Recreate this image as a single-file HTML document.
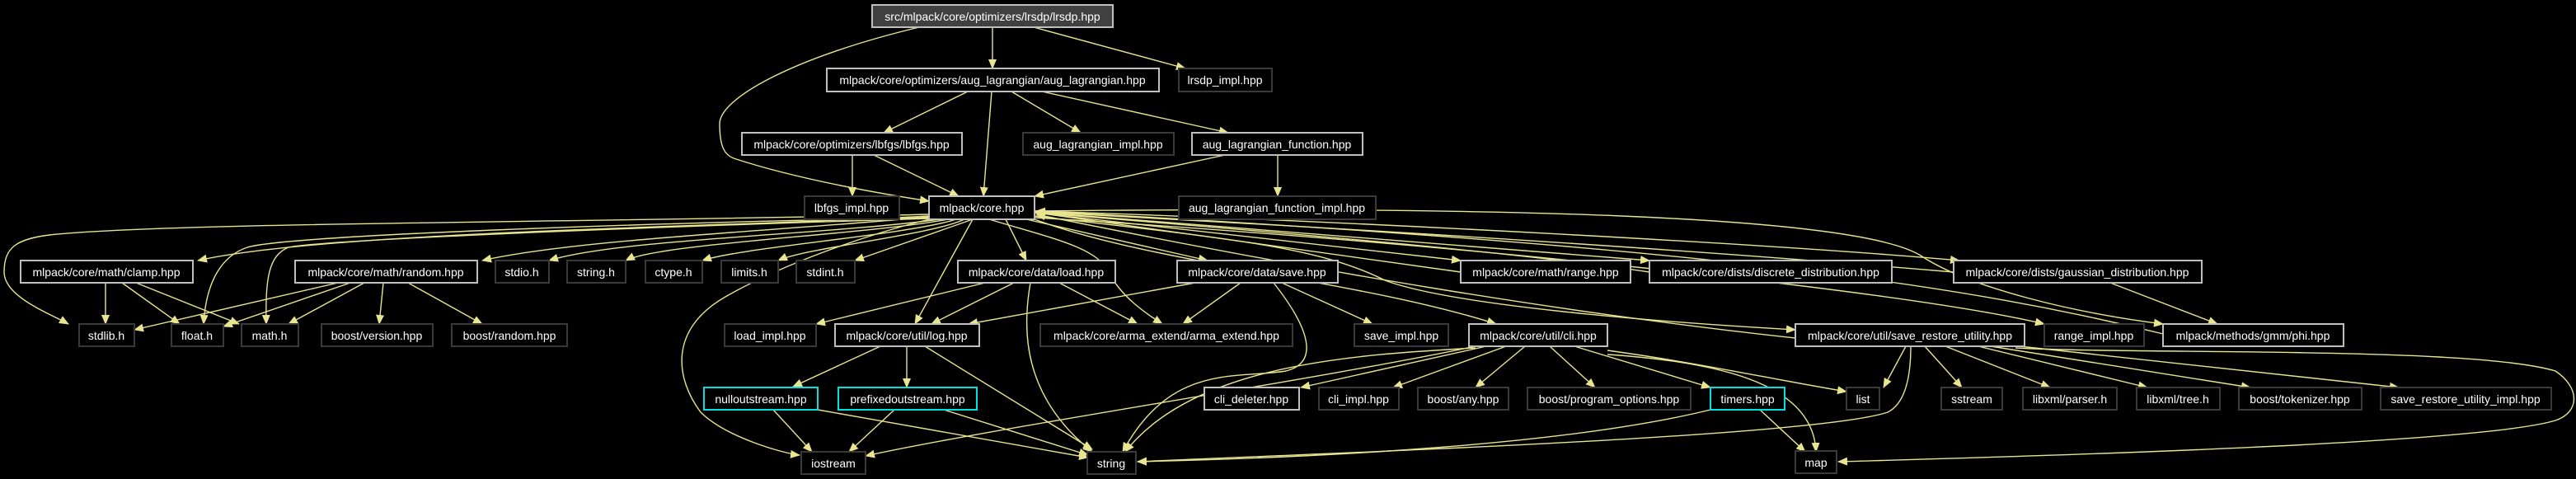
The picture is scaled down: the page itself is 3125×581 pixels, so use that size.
<!DOCTYPE html>
<html><head><meta charset="utf-8"><style>
html,body{margin:0;padding:0;background:#000;}
svg{display:block}
text{font-family:"Liberation Sans",sans-serif;font-size:14px;fill:#fff;text-anchor:middle}
.e{fill:none;stroke:#e8e490;stroke-width:1.4}
.d{fill:#000;stroke:#bfbfbf;stroke-width:2}
.u{fill:#000;stroke:#3a3a3a;stroke-width:2}
.c{fill:#000;stroke:#00e0e0;stroke-width:2}
.r{fill:#404040;stroke:#bfbfbf;stroke-width:2}
</style></head><body>
<svg width="3125" height="581" viewBox="0 0 3125 581" xmlns="http://www.w3.org/2000/svg">
<defs><marker id="a" viewBox="0 0 12 10" refX="11" refY="5" markerWidth="12" markerHeight="10" markerUnits="userSpaceOnUse" orient="auto"><path d="M0,0L12,5L0,10z" fill="#e8e490"/></marker></defs>
<g class="e" marker-end="url(#a)">
<path d="M1204,33L1204,83"/>
<path d="M1254,33L1438,83"/>
<path d="M1115,33C960,70 873,120 873,150C873,180 880,188 890,192C960,215 1050,232 1127,244"/>
<path d="M1174,111L1072,161"/>
<path d="M1203,111L1193,238"/>
<path d="M1227,111L1311,161"/>
<path d="M1264,111L1490,161"/>
<path d="M1034,188L1034,238"/>
<path d="M1060,188L1163,238"/>
<path d="M1550,188L1550,238"/>
<path d="M1486,188L1255,238"/>
<path d="M1127,262C900,275 400,280 240,316"/>
<path d="M1127,263C950,280 700,290 585,316"/>
<path d="M1140,266C1000,285 750,290 666,316"/>
<path d="M1150,266C1050,285 800,295 759,316"/>
<path d="M1160,266C1100,285 900,300 852,316"/>
<path d="M1170,266C1130,285 980,300 944,316"/>
<path d="M1180,266L1037,316"/>
<path d="M1127,260C700,270 200,270 60,285C20,290 5,300 5,330C5,360 60,380 83,393"/>
<path d="M1127,264C800,270 350,285 300,300C270,310 250,340 247,393"/>
<path d="M1127,265C800,275 400,290 350,300C325,310 322,340 323,393"/>
<path d="M1220,266L1245,316"/>
<path d="M1245,266L1465,316"/>
<path d="M1180,266L1110,393"/>
<path d="M1200,266C1280,290 1330,300 1345,330C1360,360 1390,380 1410,393"/>
<path d="M1127,266C1050,285 950,320 880,360C810,400 820,460 850,500C880,530 950,550 970,552"/>
<path d="M1255,266C1400,320 1650,340 1815,393"/>
<path d="M1255,258L1772,316"/>
<path d="M1255,257L2001,316"/>
<path d="M1255,256C1700,270 2200,300 2377,316"/>
<path d="M1255,262C1500,290 1600,300 1680,340C1760,370 2000,390 2178,400"/>
<path d="M1255,264C1700,290 2300,350 2480,393"/>
<path d="M1255,256C1800,250 2250,260 2330,310C2390,350 2520,380 2624,393"/>
<path d="M1772,330L1257,258"/>
<path d="M2001,330C1800,300 1400,270 1257,258"/>
<path d="M2370,330C1900,290 1400,265 1257,257"/>
<path d="M2178,410C1900,380 1600,330 1257,260"/>
<path d="M2624,405C2400,350 2100,300 1257,256"/>
<path d="M128,343L128,393"/>
<path d="M148,343L218,393"/>
<path d="M165,343L290,393"/>
<path d="M410,343L163,400"/>
<path d="M425,343L271,396"/>
<path d="M442,343L350,393"/>
<path d="M465,343L460,393"/>
<path d="M495,343L585,393"/>
<path d="M1195,343L990,393"/>
<path d="M1230,343L1130,393"/>
<path d="M1285,343L1380,393"/>
<path d="M1250,343C1240,400 1240,480 1325,548"/>
<path d="M1450,343L1175,393"/>
<path d="M1505,343L1435,393"/>
<path d="M1555,343L1665,393"/>
<path d="M1545,343C1590,400 1600,440 1560,450C1500,460 1420,440 1362,548"/>
<path d="M1068,420L962,469"/>
<path d="M1100,420L1100,470"/>
<path d="M1122,420L1325,545"/>
<path d="M938,497L985,548"/>
<path d="M992,497L1320,555"/>
<path d="M1085,497L1030,548"/>
<path d="M1145,497L1320,552"/>
<path d="M1803,420L1578,470"/>
<path d="M1827,420L1690,470"/>
<path d="M1850,420L1790,470"/>
<path d="M1880,420L1935,470"/>
<path d="M1910,420L2075,470"/>
<path d="M1950,425C2060,440 2150,460 2240,475"/>
<path d="M1950,430C2100,440 2200,470 2203,548"/>
<path d="M1790,422C1650,430 1450,440 1365,548"/>
<path d="M1790,420C1600,460 1200,520 1050,553"/>
<path d="M2075,497C1900,540 1600,555 1380,560"/>
<path d="M2135,497L2190,548"/>
<path d="M2312,420L2285,470"/>
<path d="M2335,420L2380,470"/>
<path d="M2360,420L2487,470"/>
<path d="M2400,420L2605,470"/>
<path d="M2415,420L2730,470"/>
<path d="M2450,420L2910,470"/>
<path d="M2318,420C2318,460 2310,490 2290,500C2200,530 1600,550 1380,560"/>
<path d="M2445,422C2600,430 3000,420 3100,450C3130,470 3130,500 3100,510C3000,540 2400,555 2230,560"/>
<path d="M2560,343L2690,393"/>
</g>
<rect class="r" x="1058" y="6" width="292" height="27"/><text x="1204" y="25">src/mlpack/core/optimizers/lrsdp/lrsdp.hpp</text>
<rect class="d" x="1003" y="83" width="403" height="28"/><text x="1204" y="102">mlpack/core/optimizers/aug_lagrangian/aug_lagrangian.hpp</text>
<rect class="u" x="1430" y="83" width="113" height="28"/><text x="1486" y="102">lrsdp_impl.hpp</text>
<rect class="d" x="900" y="161" width="267" height="27"/><text x="1033" y="180">mlpack/core/optimizers/lbfgs/lbfgs.hpp</text>
<rect class="u" x="1241" y="161" width="183" height="27"/><text x="1332" y="180">aug_lagrangian_impl.hpp</text>
<rect class="d" x="1446" y="161" width="207" height="27"/><text x="1549" y="180">aug_lagrangian_function.hpp</text>
<rect class="u" x="976" y="238" width="115" height="28"/><text x="1033" y="257">lbfgs_impl.hpp</text>
<rect class="d" x="1127" y="238" width="128" height="28"/><text x="1191" y="257">mlpack/core.hpp</text>
<rect class="u" x="1430" y="238" width="239" height="28"/><text x="1549" y="257">aug_lagrangian_function_impl.hpp</text>
<rect class="d" x="25" y="316" width="209" height="27"/><text x="129" y="335">mlpack/core/math/clamp.hpp</text>
<rect class="d" x="358" y="316" width="221" height="27"/><text x="468" y="335">mlpack/core/math/random.hpp</text>
<rect class="u" x="601" y="316" width="65" height="27"/><text x="633" y="335">stdio.h</text>
<rect class="u" x="688" y="316" width="71" height="27"/><text x="723" y="335">string.h</text>
<rect class="u" x="783" y="316" width="69" height="27"/><text x="817" y="335">ctype.h</text>
<rect class="u" x="875" y="316" width="69" height="27"/><text x="909" y="335">limits.h</text>
<rect class="u" x="966" y="316" width="71" height="27"/><text x="1001" y="335">stdint.h</text>
<rect class="d" x="1162" y="316" width="191" height="27"/><text x="1257" y="335">mlpack/core/data/load.hpp</text>
<rect class="d" x="1428" y="316" width="195" height="27"/><text x="1525" y="335">mlpack/core/data/save.hpp</text>
<rect class="d" x="1772" y="316" width="206" height="27"/><text x="1875" y="335">mlpack/core/math/range.hpp</text>
<rect class="d" x="2001" y="316" width="294" height="27"/><text x="2148" y="335">mlpack/core/dists/discrete_distribution.hpp</text>
<rect class="d" x="2370" y="316" width="301" height="27"/><text x="2520" y="335">mlpack/core/dists/gaussian_distribution.hpp</text>
<rect class="u" x="96" y="393" width="67" height="27"/><text x="129" y="412">stdlib.h</text>
<rect class="u" x="208" y="393" width="63" height="27"/><text x="239" y="412">float.h</text>
<rect class="u" x="293" y="393" width="69" height="27"/><text x="327" y="412">math.h</text>
<rect class="u" x="390" y="393" width="135" height="27"/><text x="457" y="412">boost/version.hpp</text>
<rect class="u" x="548" y="393" width="140" height="27"/><text x="618" y="412">boost/random.hpp</text>
<rect class="u" x="879" y="393" width="111" height="27"/><text x="934" y="412">load_impl.hpp</text>
<rect class="d" x="1013" y="393" width="175" height="27"/><text x="1100" y="412">mlpack/core/util/log.hpp</text>
<rect class="u" x="1262" y="393" width="306" height="27"/><text x="1415" y="412">mlpack/core/arma_extend/arma_extend.hpp</text>
<rect class="u" x="1643" y="393" width="114" height="27"/><text x="1700" y="412">save_impl.hpp</text>
<rect class="d" x="1782" y="393" width="168" height="27"/><text x="1866" y="412">mlpack/core/util/cli.hpp</text>
<rect class="d" x="2178" y="393" width="278" height="27"/><text x="2317" y="412">mlpack/core/util/save_restore_utility.hpp</text>
<rect class="u" x="2480" y="393" width="121" height="27"/><text x="2540" y="412">range_impl.hpp</text>
<rect class="d" x="2624" y="393" width="219" height="27"/><text x="2733" y="412">mlpack/methods/gmm/phi.hpp</text>
<rect class="c" x="854" y="470" width="138" height="27"/><text x="923" y="489">nulloutstream.hpp</text>
<rect class="c" x="1017" y="470" width="168" height="27"/><text x="1101" y="489">prefixedoutstream.hpp</text>
<rect class="d" x="1461" y="470" width="115" height="27"/><text x="1518" y="489">cli_deleter.hpp</text>
<rect class="u" x="1600" y="470" width="97" height="27"/><text x="1648" y="489">cli_impl.hpp</text>
<rect class="u" x="1720" y="470" width="110" height="27"/><text x="1775" y="489">boost/any.hpp</text>
<rect class="u" x="1853" y="470" width="198" height="27"/><text x="1952" y="489">boost/program_options.hpp</text>
<rect class="c" x="2075" y="470" width="90" height="27"/><text x="2120" y="489">timers.hpp</text>
<rect class="u" x="2240" y="470" width="40" height="27"/><text x="2260" y="489">list</text>
<rect class="u" x="2355" y="470" width="74" height="27"/><text x="2392" y="489">sstream</text>
<rect class="u" x="2454" y="470" width="114" height="27"/><text x="2511" y="489">libxml/parser.h</text>
<rect class="u" x="2592" y="470" width="101" height="27"/><text x="2642" y="489">libxml/tree.h</text>
<rect class="u" x="2716" y="470" width="149" height="27"/><text x="2790" y="489">boost/tokenizer.hpp</text>
<rect class="u" x="2888" y="470" width="207" height="27"/><text x="2991" y="489">save_restore_utility_impl.hpp</text>
<rect class="u" x="972" y="548" width="78" height="27"/><text x="1011" y="567">iostream</text>
<rect class="u" x="1319" y="548" width="59" height="27"/><text x="1348" y="567">string</text>
<rect class="u" x="2178" y="547" width="50" height="27"/><text x="2203" y="566">map</text>
</svg>
</body></html>
